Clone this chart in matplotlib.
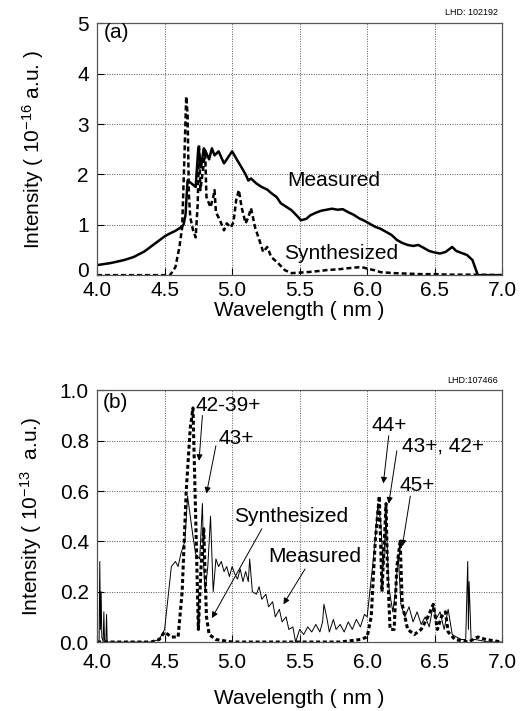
import numpy as np
import matplotlib.pyplot as plt
from matplotlib.transforms import ScaledTranslation

plt.rcParams['font.family'] = ['Liberation Sans', 'DejaVu Sans']
plt.rcParams['mathtext.default'] = 'regular'

# --- (a) LHD 102192 ---
wl_a_meas = [4.00, 4.05, 4.10, 4.15, 4.20, 4.27, 4.35, 4.40, 4.45, 4.50, 4.54,
             4.58, 4.62, 4.64, 4.655, 4.67, 4.70, 4.73, 4.75, 4.77, 4.79, 4.81, 4.83,
             4.85, 4.87, 4.90, 4.94, 4.97, 5.00, 5.03, 5.07, 5.10, 5.12, 5.14, 5.18,
             5.22, 5.26, 5.29, 5.33, 5.36, 5.40, 5.44, 5.48, 5.51, 5.55, 5.58, 5.62,
             5.66, 5.70, 5.74, 5.78, 5.82, 5.86, 5.90, 5.94, 5.98, 6.02, 6.06, 6.10,
             6.14, 6.18, 6.22, 6.26, 6.30, 6.34, 6.38, 6.42, 6.46, 6.50, 6.54, 6.58,
             6.61, 6.63, 6.66, 6.70, 6.74, 6.78, 6.80, 6.82, 6.90, 7.00]
int_a_meas = [0.20, 0.22, 0.24, 0.27, 0.30, 0.36, 0.47, 0.57, 0.67, 0.77, 0.83,
              0.88, 0.95, 1.00, 1.20, 1.88, 1.82, 1.75, 2.54, 2.14, 2.52, 2.42, 2.30,
              2.52, 2.38, 2.46, 2.22, 2.34, 2.46, 2.32, 2.14, 2.00, 1.88, 1.92, 1.82,
              1.75, 1.70, 1.63, 1.55, 1.43, 1.36, 1.29, 1.18, 1.09, 1.12, 1.19, 1.24,
              1.28, 1.30, 1.32, 1.30, 1.31, 1.25, 1.20, 1.13, 1.08, 1.02, 0.96, 0.92,
              0.86, 0.80, 0.70, 0.64, 0.60, 0.58, 0.60, 0.54, 0.48, 0.45, 0.43, 0.46,
              0.52, 0.56, 0.48, 0.44, 0.40, 0.30, 0.15, 0.00, 0.00, 0.00]

wl_a_syn = [4.00, 4.20, 4.40, 4.54, 4.58, 4.61, 4.63, 4.645, 4.66, 4.67, 4.68, 4.69,
            4.71, 4.73, 4.745, 4.755, 4.765, 4.775, 4.79, 4.80, 4.81, 4.825, 4.84,
            4.86, 4.87, 4.88, 4.91, 4.94, 4.96, 4.99, 5.01, 5.03, 5.05, 5.07, 5.10,
            5.12, 5.14, 5.17, 5.21, 5.23, 5.26, 5.29, 5.34, 5.39, 5.44, 5.50, 5.60,
            5.70, 5.80, 5.90, 5.96, 6.00, 6.05, 6.10, 6.20, 6.30, 6.40, 6.50, 6.60,
            6.80, 7.00]
int_a_syn = [0.00, 0.00, 0.00, 0.00, 0.16, 0.56, 0.95, 2.20, 3.55, 3.20, 1.60, 1.15,
             0.90, 0.75, 1.40, 2.58, 1.69, 1.90, 2.22, 2.48, 1.55, 1.45, 1.35, 1.55,
             1.69, 1.25, 1.09, 0.89, 1.03, 0.95, 1.05, 1.49, 1.69, 1.35, 1.03, 1.15,
             1.33, 0.95, 0.63, 0.46, 0.56, 0.36, 0.24, 0.10, 0.04, 0.05, 0.07,
             0.10, 0.12, 0.15, 0.16, 0.13, 0.10, 0.06, 0.04, 0.03, 0.02, 0.02, 0.01,
             0.01, 0.00]

# --- (b) LHD 107466 ---
wl_b_meas = [4.00, 4.015, 4.02, 4.025, 4.03, 4.035, 4.045, 4.05, 4.055, 4.065, 4.07,
             4.075, 4.10, 4.20, 4.30, 4.40, 4.46, 4.50, 4.52, 4.55, 4.58, 4.60, 4.62,
             4.65, 4.67, 4.69, 4.71, 4.73, 4.76, 4.78, 4.79, 4.80, 4.82, 4.84, 4.85,
             4.86, 4.88, 4.90, 4.92, 4.94, 4.96, 4.98, 5.00, 5.02, 5.04, 5.06, 5.08,
             5.10, 5.12, 5.13, 5.15, 5.18, 5.20, 5.22, 5.25, 5.27, 5.30, 5.32, 5.35,
             5.37, 5.40, 5.42, 5.45, 5.47, 5.50, 5.53, 5.56, 5.59, 5.62, 5.65, 5.67,
             5.68, 5.70, 5.72, 5.75, 5.77, 5.80, 5.83, 5.86, 5.89, 5.92, 5.95, 5.98,
             6.00, 6.02, 6.05, 6.08, 6.10, 6.12, 6.14, 6.16, 6.19, 6.21, 6.23, 6.25,
             6.28, 6.31, 6.34, 6.37, 6.40, 6.43, 6.46, 6.49, 6.51, 6.54, 6.57, 6.60,
             6.63, 6.66, 6.70, 6.73, 6.745, 6.75, 6.755, 6.77, 6.80, 6.90, 7.00]
int_b_meas = [0.00, 0.00, 0.32, 0.05, 0.20, 0.02, 0.00, 0.12, 0.01, 0.00, 0.11,
              0.00, 0.00, 0.00, 0.00, 0.00, 0.01, 0.05, 0.15, 0.30, 0.32, 0.30, 0.35,
              0.40, 0.58, 0.50, 0.42, 0.35, 0.33, 0.55, 0.30, 0.20, 0.30, 0.50, 0.35,
              0.20, 0.33, 0.30, 0.32, 0.28, 0.30, 0.26, 0.30, 0.27, 0.25, 0.29, 0.24,
              0.28, 0.24, 0.33, 0.20, 0.19, 0.22, 0.17, 0.19, 0.14, 0.16, 0.10, 0.13,
              0.08, 0.10, 0.05, 0.06, 0.00, 0.05, 0.03, 0.06, 0.04, 0.07, 0.04, 0.08,
              0.15, 0.10, 0.04, 0.09, 0.05, 0.07, 0.04, 0.08, 0.05, 0.09, 0.06, 0.11,
              0.10, 0.20, 0.35, 0.55, 0.48, 0.30, 0.50, 0.22, 0.12, 0.20, 0.35, 0.15,
              0.10, 0.14, 0.08, 0.12, 0.07, 0.10, 0.06, 0.15, 0.09, 0.12, 0.05, 0.13,
              0.03, 0.02, 0.01, 0.01, 0.32, 0.05, 0.24, 0.01, 0.01, 0.00, 0.00]

wl_b_syn = [4.00, 4.20, 4.40, 4.46, 4.50, 4.55, 4.60, 4.63, 4.66, 4.69, 4.71, 4.73,
            4.75, 4.77, 4.79, 4.81, 4.83, 4.88, 5.00, 5.20, 5.40, 5.60, 5.80, 5.95,
            6.00, 6.03, 6.06, 6.09, 6.11, 6.14, 6.15, 6.17, 6.20, 6.22, 6.245, 6.26,
            6.30, 6.35, 6.40, 6.45, 6.49, 6.52, 6.55, 6.58, 6.60, 6.65, 6.75, 6.82,
            6.88, 7.00]
int_b_syn = [0.00, 0.00, 0.00, 0.01, 0.04, 0.02, 0.02, 0.20, 0.60, 0.85, 0.93, 0.50,
             0.05, 0.30, 0.45, 0.10, 0.03, 0.01, 0.00, 0.00, 0.00, 0.00, 0.00, 0.01,
             0.02, 0.10, 0.40, 0.58, 0.20, 0.55, 0.30, 0.05, 0.05, 0.30, 0.40, 0.15,
             0.05, 0.03, 0.05, 0.10, 0.15, 0.05, 0.10, 0.12, 0.04, 0.01, 0.00, 0.02,
             0.01, 0.00]

FS = 15

fig = plt.figure(figsize=(5.22, 7.11), dpi=100)
ax_a = fig.add_axes([0.186, 0.613, 0.776, 0.354])
ax_b = fig.add_axes([0.186, 0.097, 0.776, 0.354])


def style_axes(ax, xpad, labelpad):
    ax.set_xlim(4.0, 7.0)
    ax.set_xticks([4.0, 4.5, 5.0, 5.5, 6.0, 6.5, 7.0])
    ax.set_xticklabels(['4.0', '4.5', '5.0', '5.5', '6.0', '6.5', '7.0'])
    ax.grid(True, color='#555555', linestyle=(0, (1, 1.5)), linewidth=0.7)
    ax.tick_params(direction='in', length=5, width=0.8, labelsize=FS)
    ax.tick_params(axis='x', pad=xpad)
    ax.tick_params(axis='y', pad=6)
    for sp in ax.spines.values():
        sp.set_color('#555555')
        sp.set_linewidth(0.9)
    ax.set_xlabel('Wavelength ( nm )', fontsize=FS, labelpad=labelpad)


# panel (a)
ax_a.plot(wl_a_meas, int_a_meas, color='black', lw=1.8)
ax_a.plot(wl_a_syn, int_a_syn, color='black', lw=1.8, linestyle=(0, (2, 1.2)))
style_axes(ax_a, 4, 1)
ax_a.set_ylim(0, 5)
ax_a.set_yticks([0, 1, 2, 3, 4, 5])
ax_a.set_ylabel('Intensity ( 10$^{-16}$ a.u. )', fontsize=FS, labelpad=22)
ax_a.text(4.05, 4.82, '(a)', fontsize=FS, va='center', ha='left')
ax_a.text(5.75, 1.88, 'Measured', fontsize=FS, ha='center', va='center')
ax_a.text(5.81, 0.43, 'Synthesized', fontsize=FS, ha='center', va='center')
ax_a.text(6.97, 5.12, 'LHD: 102192', fontsize=6.5, ha='right', va='bottom')

# nudge the bottom "0" label up a little so it clears "4.0"
lbl0 = ax_a.get_yticklabels()[0]
lbl0.set_transform(lbl0.get_transform() + ScaledTranslation(0, 4 / 72, fig.dpi_scale_trans))

# panel (b)
ax_b.plot(wl_b_meas, int_b_meas, color='black', lw=0.7)
ax_b.plot(wl_b_syn, int_b_syn, color='black', lw=2.2, linestyle=(0, (1.3, 0.9)))
style_axes(ax_b, 8, 12)
ax_b.set_ylim(0, 1.0)
ax_b.set_yticks([0.0, 0.2, 0.4, 0.6, 0.8, 1.0])
ax_b.set_yticklabels(['0.0', '0.2', '0.4', '0.6', '0.8', '1.0'])
ax_b.set_ylabel('Intensity ( 10$^{-13}$  a.u.)', fontsize=FS, labelpad=11)
ax_b.text(4.04, 0.95, '(b)', fontsize=FS, va='center', ha='left')
ax_b.text(6.97, 1.02, 'LHD:107466', fontsize=6.5, ha='right', va='bottom')

labels_b = ['42-39+', '43+', 'Synthesized', 'Measured', '44+', '43+, 42+', '45+']
label_xy = [(4.73, 0.94), (4.90, 0.81), (5.44, 0.50), (5.61, 0.34),
            (6.16, 0.86), (6.56, 0.78), (6.37, 0.62)]
label_ha = ['left', 'left', 'center', 'center', 'center', 'center', 'center']
arrow_from = [(4.78, 0.90), (4.88, 0.78), (5.22, 0.45), (5.54, 0.29),
              (6.16, 0.82), (6.22, 0.76), (6.32, 0.58)]
arrow_to = [(4.755, 0.72), (4.81, 0.59), (4.85, 0.095), (5.38, 0.15),
            (6.12, 0.63), (6.16, 0.55), (6.26, 0.38)]

for lab, xy, ha in zip(labels_b, label_xy, label_ha):
    ax_b.text(xy[0], xy[1], lab, fontsize=FS, ha=ha, va='center')
for p0, p1 in zip(arrow_from, arrow_to):
    ax_b.annotate('', xy=p1, xytext=p0,
                  arrowprops=dict(arrowstyle='-|>', color='black', lw=0.7,
                                  mutation_scale=9, shrinkA=0, shrinkB=0))

fig.savefig('out.png', dpi=100)
